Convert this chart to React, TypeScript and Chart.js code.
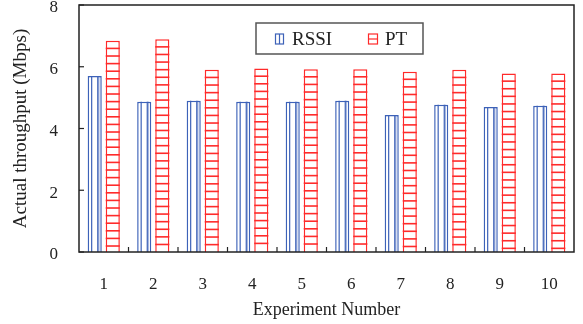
import React, { useEffect, useRef } from "react";
import { Chart, registerables } from "chart.js";

Chart.register(...registerables);

const categories = ["1", "2", "3", "4", "5", "6", "7", "8", "9", "10"];
const rssiValues = [5.7, 4.87, 4.9, 4.87, 4.87, 4.9, 4.44, 4.77, 4.7, 4.74];
const ptValues = [6.84, 6.89, 5.9, 5.94, 5.92, 5.92, 5.84, 5.9, 5.78, 5.78];
const yTicks = [0, 2, 4, 6, 8];
const seriesNames = ["RSSI", "PT"];

const BLUE = "#3d62b8";
const RED = "#ff2a2a";
const FONT = "'Liberation Serif', 'Times New Roman', serif";

const decorPlugin = {
  id: "decor",
  afterDatasetsDraw(chart: any) {
    const ctx = chart.ctx;
    const area = chart.chartArea;
    ctx.save();
    const m0 = chart.getDatasetMeta(0);
    m0.data.forEach((bar: any) => {
      const p = bar.getProps(["x", "y", "base", "width"], true);
      const l = p.x - p.width / 2;
      const r = p.x + p.width / 2;
      ctx.strokeStyle = BLUE;
      ctx.lineWidth = 1.2;
      [l + 4, r - 4].forEach((xx: number) => {
        ctx.beginPath();
        ctx.moveTo(xx, p.y);
        ctx.lineTo(xx, p.base);
        ctx.stroke();
      });
      ctx.strokeStyle = "rgba(61,98,184,0.45)";
      ctx.lineWidth = 1.5;
      ctx.beginPath();
      ctx.moveTo(r - 3, p.y);
      ctx.lineTo(r - 3, p.base);
      ctx.stroke();
    });
    const m1 = chart.getDatasetMeta(1);
    m1.data.forEach((bar: any) => {
      const p = bar.getProps(["x", "y", "base", "width"], true);
      const l = p.x - p.width / 2;
      const r = p.x + p.width / 2;
      ctx.strokeStyle = RED;
      ctx.lineWidth = 1.6;
      for (let yy = p.y + 7.6; yy < p.base - 1; yy += 7.6) {
        ctx.beginPath();
        ctx.moveTo(l, yy);
        ctx.lineTo(r, yy);
        ctx.stroke();
      }
    });
    ctx.strokeStyle = "#222";
    ctx.lineWidth = 1.5;
    ctx.strokeRect(area.left, area.top, area.right - area.left, area.bottom - area.top);
    const ys = chart.scales.y;
    ctx.lineWidth = 1.2;
    yTicks.forEach((v) => {
      const py = ys.getPixelForValue(v);
      ctx.beginPath();
      ctx.moveTo(area.left, py);
      ctx.lineTo(area.left + 5, py);
      ctx.stroke();
    });
    const xs = chart.scales.x;
    const cw = (area.right - area.left) / categories.length;
    for (let i = 1; i < categories.length; i++) {
      const px = xs.getPixelForValue(i) - cw / 2;
      ctx.beginPath();
      ctx.moveTo(px, area.bottom);
      ctx.lineTo(px, area.bottom - 5);
      ctx.stroke();
    }
    const lx = area.left + 177;
    const ly = area.top + 18;
    const lw = 167;
    const lh = 31;
    ctx.fillStyle = "#fff";
    ctx.fillRect(lx, ly, lw, lh);
    ctx.strokeStyle = "#555";
    ctx.lineWidth = 1.5;
    ctx.strokeRect(lx, ly, lw, lh);
    ctx.font = "19px " + FONT;
    ctx.textBaseline = "middle";
    ctx.fillStyle = "#222";
    const cy = ly + lh / 2 + 0.5;
    ctx.strokeStyle = BLUE;
    ctx.lineWidth = 1.2;
    ctx.strokeRect(lx + 19.5, cy - 5, 8, 10);
    ctx.beginPath();
    ctx.moveTo(lx + 23.5, cy - 5);
    ctx.lineTo(lx + 23.5, cy + 5);
    ctx.stroke();
    ctx.fillText(seriesNames[0], lx + 36, cy + 1);
    ctx.strokeStyle = RED;
    ctx.strokeRect(lx + 112.5, cy - 5, 9, 10);
    ctx.beginPath();
    ctx.moveTo(lx + 112.5, cy);
    ctx.lineTo(lx + 121.5, cy);
    ctx.stroke();
    ctx.fillText(seriesNames[1], lx + 129, cy + 1);
    ctx.restore();
  },
};

export default function App() {
  const ref = useRef<HTMLCanvasElement | null>(null);
  useEffect(() => {
    if (!ref.current) return;
    const chart = new Chart(ref.current, {
      type: "bar",
      data: {
        labels: categories,
        datasets: [
          {
            label: seriesNames[0],
            data: rssiValues,
            backgroundColor: "#fff",
            borderColor: BLUE,
            borderWidth: 1.5,
          },
          {
            label: seriesNames[1],
            data: ptValues,
            backgroundColor: "#fff",
            borderColor: RED,
            borderWidth: 1.5,
          },
        ],
      },
      options: {
        animation: false,
        responsive: false,
        maintainAspectRatio: false,
        events: [],
        layout: { padding: { top: 5, right: 9, left: 0, bottom: 0 } },
        datasets: {
          bar: { categoryPercentage: 0.73, barPercentage: 0.78 },
        },
        plugins: {
          legend: { display: false },
          tooltip: { enabled: false },
        },
        scales: {
          x: {
            grid: { display: false, drawTicks: false },
            border: { display: false },
            ticks: {
              color: "#222",
              font: { family: FONT, size: 17 },
              padding: 22,
              maxRotation: 0,
            },
            title: {
              display: true,
              text: "Experiment Number",
              color: "#222",
              font: { family: FONT, size: 18 },
              padding: { top: 0, bottom: 3 },
            },
            afterFit(s: any) {
              s.height = 72;
              s.paddingLeft = 0;
              s.paddingRight = 0;
            },
          },
          y: {
            min: 0,
            max: 8,
            grid: { display: false, drawTicks: false },
            border: { display: false },
            afterBuildTicks(s: any) {
              s.ticks = yTicks.map((v) => ({ value: v }));
            },
            ticks: {
              color: "#222",
              font: { family: FONT, size: 17 },
              padding: 21,
              labelOffset: 3,
            },
            title: {
              display: true,
              text: "Actual throughput (Mbps)",
              color: "#222",
              font: { family: FONT, size: 19 },
              padding: { top: 10, bottom: 0 },
            },
            afterFit(s: any) {
              s.width = 79;
              s.paddingTop = 0;
              s.paddingBottom = 0;
            },
          },
        },
      } as any,
      plugins: [decorPlugin],
    });
    return () => chart.destroy();
  }, []);
  return (
    <div style={{ position: "fixed", left: 0, top: 0, width: 583, height: 324, background: "#fff" }}>
      <canvas ref={ref} width={583} height={324} style={{ width: 583, height: 324 }} />
    </div>
  );
}
